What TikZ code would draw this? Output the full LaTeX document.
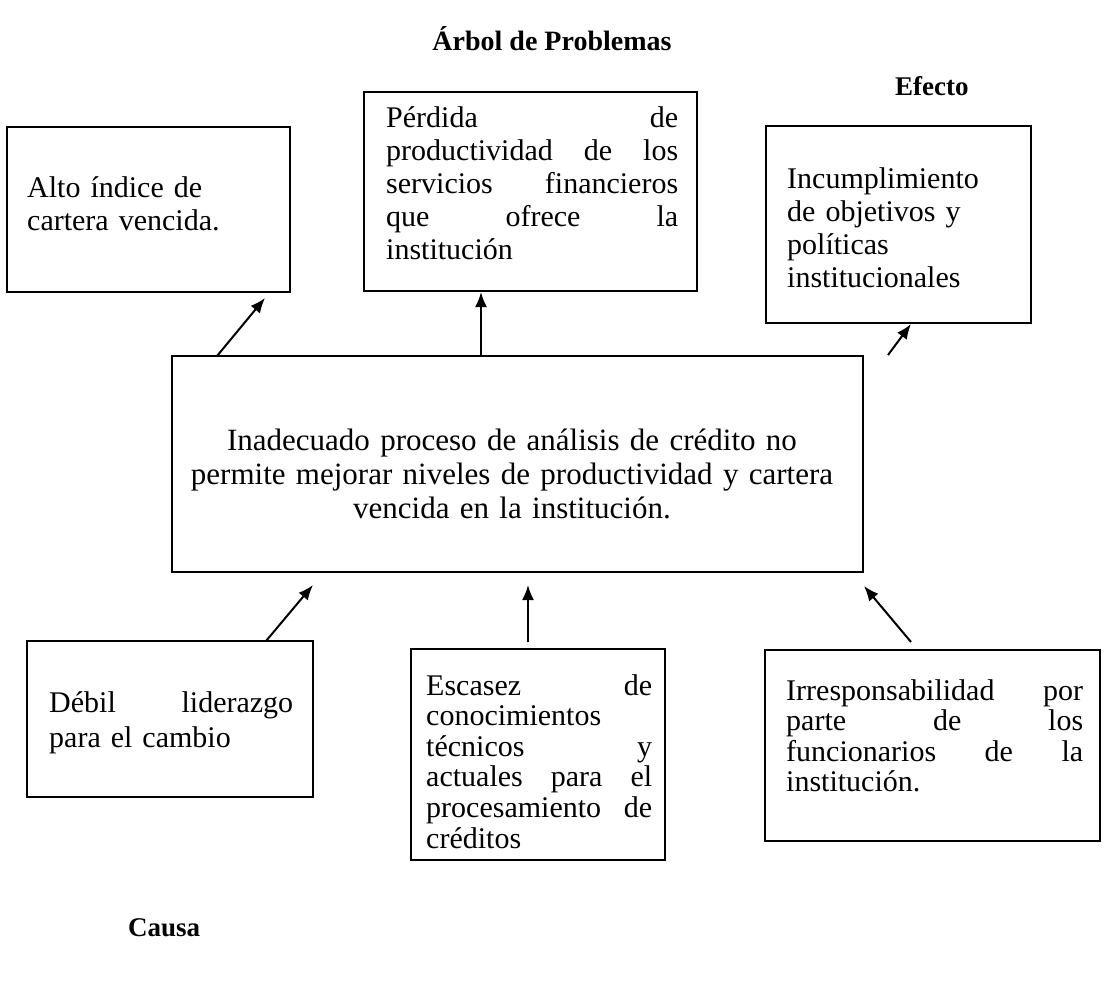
\documentclass[tikz,border=0pt]{standalone}
\usepackage{fontspec}
\setmainfont{Liberation Serif}
\usetikzlibrary{arrows.meta}
\newcommand\jl[2]{\leavevmode\hbox to #1{#2}}
\begin{document}
\begin{tikzpicture}[x=1pt,y=-1pt,
  box/.style={draw, line width=1.6pt, inner sep=0pt},
  txt/.style={inner sep=0pt, align=left, anchor=base west, font=\fontsize{30pt}{33pt}\selectfont},
  ttl/.style={inner sep=0pt, font=\bfseries\fontsize{27pt}{30pt}\selectfont},
  arr/.style={line width=2pt, -{Latex[length=15pt,width=12pt]}}]
\useasboundingbox (0,0) rectangle (1105,999);
\fill[white] (0,0) rectangle (1105,999);

% titles
\node[ttl, anchor=base, font=\bfseries\fontsize{28pt}{30pt}\selectfont] (T) at (552,50) {Árbol de Problemas};
\node[ttl, anchor=base west] (Ef) at (895,95) {Efecto};
\node[ttl, anchor=base west] (Ca) at (128,936) {Causa};

% boxes
\node[box, minimum width=283pt, minimum height=165pt] (A) at (148.5,209.5) {};
\node[box, minimum width=333pt, minimum height=199pt] (B) at (530.5,191.5) {};
\node[box, minimum width=265pt, minimum height=197pt] (C) at (898.5,224.5) {};
\node[box, minimum width=691pt, minimum height=216pt] (D) at (517.5,464) {};
\node[box, minimum width=286pt, minimum height=156pt] (E) at (170,719) {};
\node[box, minimum width=254pt, minimum height=211pt] (F) at (538,754.5) {};
\node[box, minimum width=335pt, minimum height=191pt] (G) at (932.5,745.5) {};

% texts
\node[txt, text width=240pt] (At) at (27,197) {Alto índice de\\cartera vencida.};
\node[txt, text width=292pt] (Bt) at (386,127) {\jl{292pt}{Pérdida\hfill de}\\\jl{292pt}{productividad\hfill de\hfill los}\\\jl{292pt}{servicios\hfill financieros}\\\jl{292pt}{que\hfill ofrece\hfill la}\\institución};
\node[txt, text width=240pt] (Ct) at (787,188) {Incumplimiento\\de objetivos y\\políticas\\institucionales};
\node[txt, align=center, anchor=base, text width=680pt, font=\fontsize{31pt}{34pt}\selectfont] (Dt) at (512,450) {Inadecuado proceso de análisis de crédito no\\permite mejorar niveles de productividad y cartera\\vencida en la institución.};
\node[txt, text width=244pt, font=\fontsize{30pt}{35pt}\selectfont] (Et) at (49,712) {\jl{244pt}{Débil\hfill liderazgo}\\para el cambio};
\node[txt, text width=226pt, font=\fontsize{30pt}{30.6pt}\selectfont] (Ft) at (426,695) {\jl{226pt}{Escasez\hfill de}\\conocimientos\\\jl{226pt}{técnicos\hfill y}\\\jl{226pt}{actuales\hfill para\hfill el}\\\jl{226pt}{procesamiento\hfill de}\\créditos};
\node[txt, text width=297pt, font=\fontsize{30pt}{30.5pt}\selectfont] (Gt) at (786,700) {\jl{297pt}{Irresponsabilidad\hfill por}\\\jl{297pt}{parte\hfill de\hfill los}\\\jl{297pt}{funcionarios\hfill de\hfill la}\\institución.};

% arrow end points
\coordinate (a0) at (217,356); \coordinate (a1) at (265,298);
\coordinate (b0) at (481,356); \coordinate (b1) at (481,292);
\coordinate (c0) at (888,355); \coordinate (c1) at (911,324);
\coordinate (e0) at (266,641); \coordinate (e1) at (313,585);
\coordinate (f0) at (528,642); \coordinate (f1) at (528,585);
\coordinate (g0) at (911,642); \coordinate (g1) at (864,586);

\draw[arr] (a0) -- (a1);
\draw[arr] (b0) -- (b1);
\draw[arr] (c0) -- (c1);
\draw[arr] (e0) -- (e1);
\draw[arr] (f0) -- (f1);
\draw[arr] (g0) -- (g1);
\end{tikzpicture}
\end{document}
